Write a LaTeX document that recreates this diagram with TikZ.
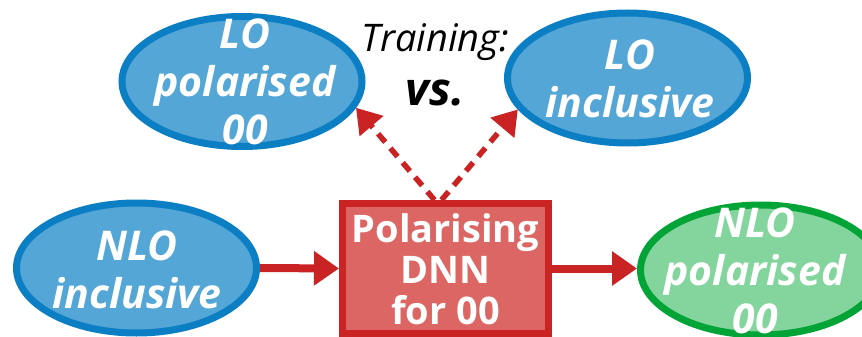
\documentclass[tikz,border=0pt]{standalone}
\usepackage{fontspec}
\setmainfont{Open Sans}
\usetikzlibrary{shapes.geometric,arrows.meta}
\definecolor{bfill}{HTML}{53A6D6}
\definecolor{bdraw}{HTML}{0C7EC3}
\definecolor{gfill}{HTML}{84D59D}
\definecolor{gdraw}{HTML}{02A437}
\definecolor{rfill}{HTML}{DB6664}
\definecolor{rdraw}{HTML}{C92323}
\begin{document}
\begin{tikzpicture}[x=1pt,y=-1pt,
  ell/.style={ellipse,line width=7pt,inner sep=0pt,minimum width=240pt,minimum height=130pt},
  blueell/.style={ell,draw=bdraw,fill=bfill},
  greenell/.style={ell,draw=gdraw,fill=gfill},
  lbl/.style={text=white,font=\fontsize{41}{48}\selectfont\bfseries\itshape,align=center,inner sep=0pt},
  boxlbl/.style={text=white,font=\fontsize{38}{41}\selectfont\bfseries,align=center,inner sep=0pt},
  dnnbox/.style={draw=rdraw,fill=rfill,line width=7pt,minimum width=206pt,minimum height=130pt,inner sep=0pt},
  flow/.style={draw=rdraw,line width=8pt,-{Triangle[length=25pt,width=33pt]}},
  trainflow/.style={draw=rdraw,line width=5.5pt,dash pattern=on 11pt off 8pt,-{Triangle[length=24pt,width=30pt]}},
  plain/.style={inner sep=0pt,anchor=base}]
\useasboundingbox (0,0) rectangle (862,337);
% nodes
\node[blueell] (lop) at (242,81.5) {};
\node[lbl] (loptxt) at (245,82) {LO\\polarised\\00};
\node[blueell] (loi) at (627.5,78) {};
\node[lbl] (loitxt) at (630,78.5) {LO\\inclusive};
\node[blueell] (noi) at (136.5,268) {};
\node[lbl] (noitxt) at (137,270) {NLO\\inclusive};
\node[dnnbox] (dnn) at (445.5,268.5) {};
\node[boxlbl] (dnntxt) at (445.5,269) {Polarising\\DNN\\for 00};
\node[greenell] (nop) at (760.5,270) {};
\node[lbl] (noptxt) at (755,271) {NLO\\polarised\\00};
\node[plain,font=\fontsize{38}{46}\selectfont\itshape] (train) at (435,52) {Training:};
\node[plain,font=\fontsize{46}{50}\selectfont\bfseries\itshape] (vs) at (435,105) {vs.};
% connectors
\draw[flow] (noi.east) -- (dnn.west);
\draw[flow] (dnn.east) -- (dnn.east -| nop.west);
\draw[trainflow] ([xshift=-11pt]dnn.north) -- (lop.-13);
\draw[trainflow] ([xshift=-4pt]dnn.north) -- (loi.196);
\end{tikzpicture}
\end{document}
